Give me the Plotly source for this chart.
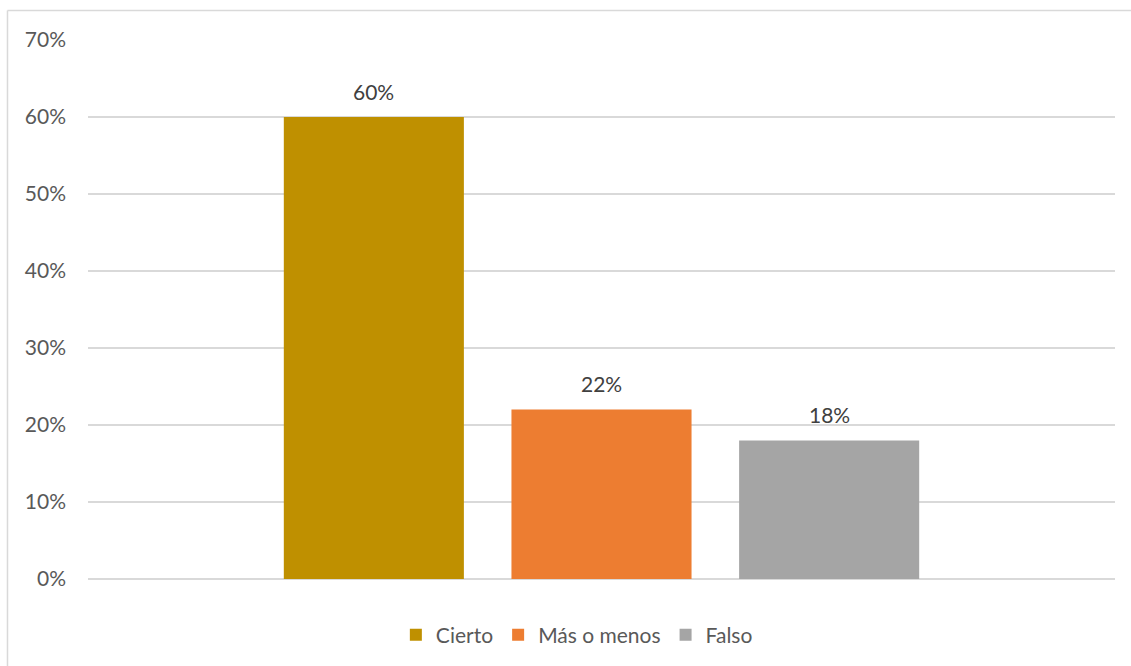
import plotly.graph_objects as go

# Survey answers and their shares
answers = ["Cierto", "Más o menos", "Falso"]
shares = [0.60, 0.22, 0.18]
colors = ["#BF9000", "#ED7D31", "#A5A5A5"]
y_ticks = [0, 0.1, 0.2, 0.3, 0.4, 0.5, 0.6, 0.7]

FONT = "Lato"
BARGAP = 0.335
GROUPGAP = 0.209

fig = go.Figure()
for name, val, col in zip(answers, shares, colors):
    fig.add_trace(go.Bar(
        x=[0], y=[val], name=name,
        marker=dict(color=col, line=dict(width=0)),
        hoverinfo="skip",
    ))

# value labels above each bar, centred on the bar slots of the group
slot = (1 - BARGAP) / len(answers)
for i, val in enumerate(shares):
    xc = (i - (len(answers) - 1) / 2) * slot
    fig.add_annotation(
        x=xc, y=val, xref="x", yref="y",
        text=f"{val:.0%}", showarrow=False,
        yanchor="middle", yshift=26,
        font=dict(family=FONT, size=21, color="#404040"),
    )

# outer chart frame: only the left and top edges fall inside the page
frame = dict(color="#D9D9D9", width=1.5)
fig.add_shape(type="line", xref="paper", yref="paper",
              x0=-0.0784, x1=-0.0784, y0=-0.3, y1=1.0546, line=frame, layer="below")
fig.add_shape(type="line", xref="paper", yref="paper",
              x0=-0.0784, x1=1.1, y0=1.0546, y1=1.0546, line=frame, layer="below")

fig.update_layout(
    width=1131, height=666,
    margin=dict(l=88, r=16, t=40, b=86),
    paper_bgcolor="white", plot_bgcolor="white",
    barmode="group", bargap=BARGAP, bargroupgap=GROUPGAP,
    showlegend=True,
    legend=dict(
        orientation="h", x=0.476, xanchor="center", y=-0.102, yanchor="middle",
        font=dict(family=FONT, size=21, color="#595959"),
        itemclick=False, itemdoubleclick=False,
    ),
    xaxis=dict(
        type="linear", range=[-0.5, 0.5], showticklabels=False,
        showgrid=False, zeroline=False, showline=False, fixedrange=True,
    ),
    yaxis=dict(
        range=[0, 0.7], tickvals=y_ticks, tickformat=".0%",
        showgrid=True, gridcolor="#D9D9D9", gridwidth=1.5,
        zeroline=True, zerolinecolor="#D9D9D9", zerolinewidth=1.5,
        showline=False, ticks="", ticklabelstandoff=21,
        tickfont=dict(family=FONT, size=21, color="#595959"),
        fixedrange=True,
    ),
)

fig.write_html("out.html")
